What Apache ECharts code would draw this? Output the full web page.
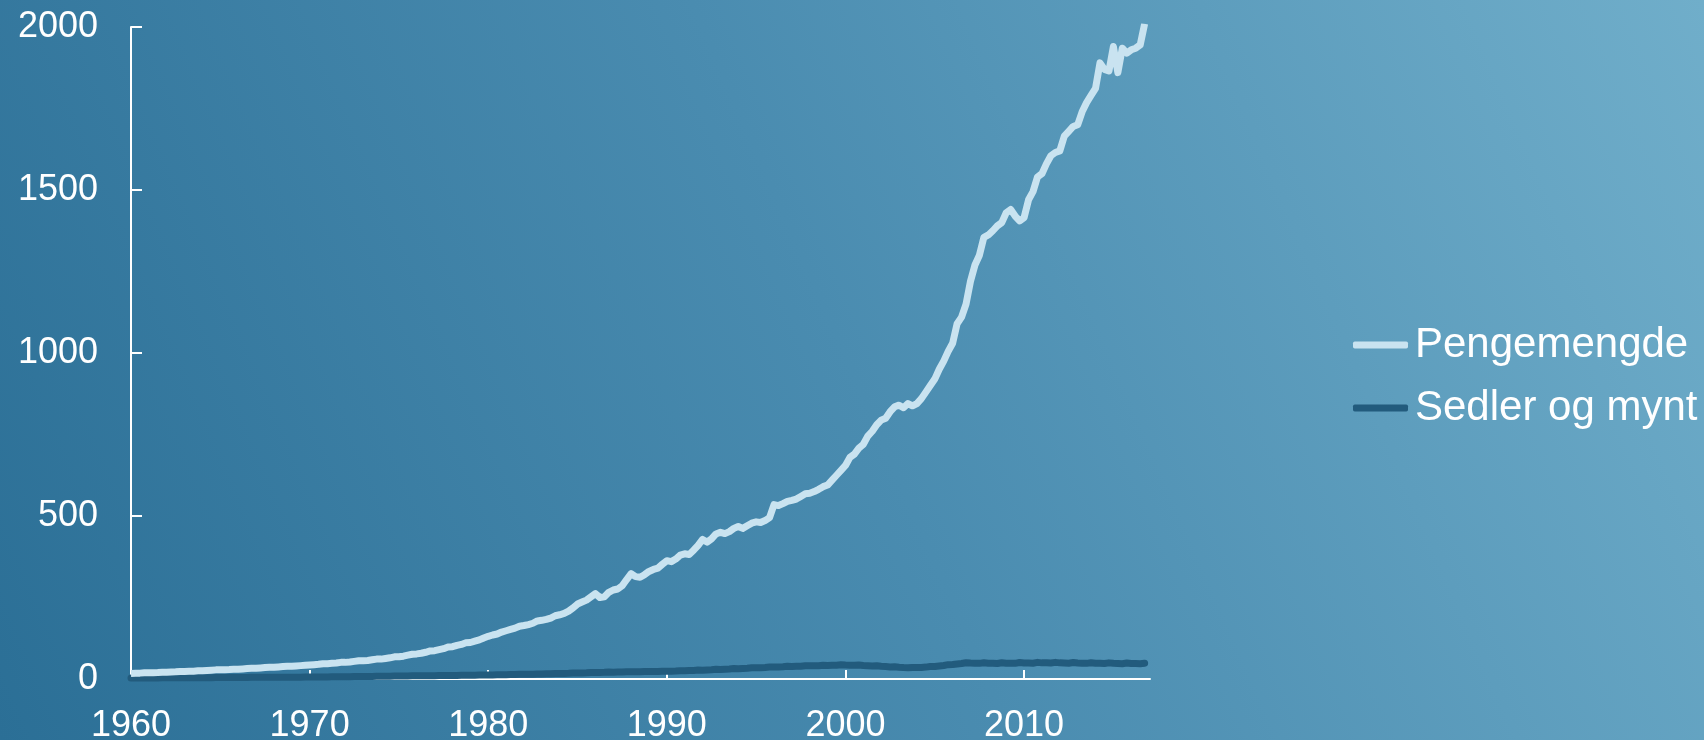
<!DOCTYPE html>
<html>
<head>
<meta charset="utf-8">
<title>Pengemengde</title>
<script src="https://cdn.jsdelivr.net/npm/echarts@6/dist/echarts.min.js"></script>
<style>
  html, body { margin: 0; padding: 0; }
  #main { width: 1704px; height: 740px; }
</style>
</head>
<body>
<div id="main"></div>
<script>
// quarterly values, first quarter 1960
var startYear = 1960;
var perYear = 4;
var seriesNames = ['Pengemengde', 'Sedler og mynt'];
var yearTicks = [1960, 1970, 1980, 1990, 2000, 2010];

var pengemengde = [
  17, 17.5, 18, 19,   19, 19.5, 20, 21,   21, 21.5, 22, 23,   23, 23.5, 24, 25,
  25, 26, 27, 28,     28, 28.5, 29, 30,   30, 31, 32, 33,     33, 34, 35, 36,
  36, 37, 38, 39,     39, 40, 41, 42,     43, 44, 45, 47,     47, 48, 49, 51,
  51, 52, 54, 56,     56, 57, 59, 61,     61, 63, 65, 68,     68, 70, 73, 76,
  77, 79, 82, 86,     87, 90, 93, 98,     99, 103, 106, 111,  112, 116, 120, 126,
  131, 135, 138, 144, 148, 152, 156, 162, 164, 167, 171, 178, 180, 183, 187, 194,
  197, 201, 208, 218, 230, 236, 242, 252, 262, 250, 252, 266, 273, 276, 286, 305,
  323, 314, 312, 320, 330, 336, 340, 352, 363, 360, 368, 380, 384, 382, 395, 410,
  428, 420, 430, 445, 450, 446, 452, 462, 468, 462, 470, 478, 482, 480, 486, 495,
  535, 532, 538, 545, 548, 552, 560, 568, 570, 575, 582, 590, 595, 610, 625, 640,
  655, 680, 690, 708, 720, 745, 760, 780, 794, 800, 820, 835, 840, 832, 845, 838,
  845, 860, 880, 900, 920, 950, 975, 1005, 1030, 1090, 1110, 1150, 1220, 1270, 1300, 1355,
  1362, 1375, 1390, 1400, 1430, 1440, 1420, 1405, 1415, 1470, 1495, 1540, 1550, 1580, 1605, 1615,
  1620, 1665, 1680, 1695, 1700, 1740, 1768, 1790, 1812, 1890, 1870, 1865, 1940, 1860, 1935, 1920,
  1930, 1935, 1945, 2010
];

var sedlerOgMynt = [
  3, 3, 3, 3.2,          3.2, 3.2, 3.3, 3.5,    3.5, 3.5, 3.6, 3.8,    3.8, 3.8, 3.9, 4.1,
  4.1, 4.1, 4.2, 4.4,    4.4, 4.4, 4.5, 4.7,    4.7, 4.7, 4.8, 5.0,    5.0, 5.0, 5.1, 5.3,
  5.3, 5.3, 5.4, 5.6,    5.6, 5.6, 5.7, 6.0,    6.0, 6.1, 6.2, 6.5,    6.5, 6.6, 6.7, 7.0,
  7.0, 7.1, 7.3, 7.6,    7.6, 7.7, 7.9, 8.2,    8.2, 8.3, 8.5, 8.9,    8.9, 9.0, 9.2, 9.6,
  9.6, 9.7, 9.9, 10.3,   10.2, 10.4, 10.6, 11.0, 10.9, 11.1, 11.3, 11.7, 11.6, 11.8, 12.0, 12.4,
  12.3, 12.5, 12.8, 13.3, 13.2, 13.5, 13.8, 14.4, 14.3, 14.6, 14.9, 15.6, 15.5, 15.8, 16.2, 16.9,
  16.8, 17.2, 17.6, 18.4, 18.3, 18.7, 19.1, 20.0, 19.8, 20.1, 20.4, 21.3, 21.0, 21.2, 21.5, 22.4,
  22.0, 22.2, 22.4, 23.2, 22.9, 23.0, 23.2, 24.0, 23.7, 24.0, 24.4, 25.5, 25.3, 25.7, 26.2, 27.4,
  27.2, 27.7, 28.3, 29.6, 29.4, 30.0, 30.7, 32.0, 31.8, 32.4, 33.0, 34.4, 34.2, 34.8, 35.3, 36.8,
  36.5, 37.0, 37.5, 38.9, 38.5, 39.0, 39.4, 40.8, 40.3, 40.6, 40.9, 42.2, 41.6, 41.9, 42.2, 43.6,
  42.8, 42.5, 42.0, 43.0, 41.5, 40.8, 40.0, 40.5, 39.0, 38.0, 37.0, 37.5, 36.0, 35.0, 34.5, 35.5,
  35.0, 35.5, 36.5, 38.5, 38.5, 40.0, 41.5, 44.0, 44.5, 46.0, 47.5, 50.0, 49.0, 48.5, 48.0, 50.0,
  48.5, 48.0, 47.5, 50.0, 48.5, 48.5, 48.0, 50.5, 49.0, 49.0, 48.5, 51.0, 49.5, 49.5, 49.0, 51.0,
  49.5, 49.0, 48.5, 50.5, 49.0, 48.5, 48.0, 50.0, 48.5, 48.0, 47.5, 49.5, 48.0, 47.5, 47.0, 49.0,
  47.5, 47.5, 47.0, 48.5
];

var lightColor = '#c9e3f0';
var darkColor = '#225b7d';

function withYears(values) {
  return values.map(function (v, i) {
    return [startYear + i / perYear, v];
  });
}

var myChart = echarts.init(document.getElementById('main'));
var labelFont = 'Liberation Sans, Arial, sans-serif';

var option = {
  backgroundColor: new echarts.graphic.LinearGradient(0, 1, 1, 0, [
    { offset: 0, color: '#2b6f96' },
    { offset: 0.5, color: '#4a8cb0' },
    { offset: 1, color: '#70aeca' }
  ]),
  animation: false,
  textStyle: {
    fontFamily: labelFont,
    color: '#ffffff'
  },
  legend: {
    orient: 'vertical',
    left: 1348,
    top: 319,
    icon: 'roundRect',
    itemWidth: 55,
    itemHeight: 7,
    itemGap: 21,
    textStyle: {
      color: '#ffffff',
      fontSize: 42,
      fontFamily: labelFont,
      padding: [0, 0, 0, 2]
    },
    data: seriesNames
  },
  grid: {
    left: 131,
    right: 554,
    top: 27,
    bottom: 61,
    outerBoundsMode: 'none'
  },
  xAxis: {
    type: 'value',
    min: 1960,
    max: 2017.05,
    interval: 10,
    axisLine: {
      lineStyle: { color: '#ffffff', width: 2 }
    },
    axisTick: {
      inside: true,
      length: 9,
      customValues: yearTicks,
      lineStyle: { color: '#ffffff', width: 2 }
    },
    axisLabel: {
      color: '#ffffff',
      fontSize: 36,
      margin: 29,
      customValues: yearTicks,
      formatter: function (v) { return String(v); }
    },
    splitLine: { show: false }
  },
  yAxis: {
    type: 'value',
    min: 0,
    max: 2000,
    interval: 500,
    axisLine: {
      show: true,
      lineStyle: { color: '#ffffff', width: 2 }
    },
    axisTick: {
      show: true,
      inside: true,
      length: 11,
      lineStyle: { color: '#ffffff', width: 2 }
    },
    axisLabel: {
      color: '#ffffff',
      fontSize: 36,
      margin: 33,
      formatter: function (v) { return String(v); }
    },
    splitLine: { show: false }
  },
  series: [
    {
      name: seriesNames[1],
      type: 'line',
      symbol: 'none',
      z: 2,
      data: withYears(sedlerOgMynt),
      lineStyle: { color: darkColor, width: 7, cap: 'round', join: 'round' },
      itemStyle: { color: darkColor }
    },
    {
      name: seriesNames[0],
      type: 'line',
      symbol: 'none',
      z: 3,
      data: withYears(pengemengde),
      lineStyle: { color: lightColor, width: 7, join: 'round' },
      itemStyle: { color: lightColor }
    }
  ]
};
myChart.setOption(option);
</script>
</body>
</html>
